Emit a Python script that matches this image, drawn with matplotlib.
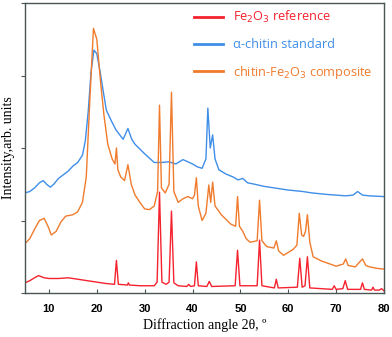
import matplotlib
matplotlib.use("Agg")
import matplotlib.pyplot as plt

# Fe2O3 reference (red)
red_x = [5, 6, 7, 7.8, 9, 10, 12, 14, 16, 18, 20, 22, 23.7, 24.1, 24.5, 26.4, 26.6, 26.8, 29, 32,
         32.6, 33.1, 33.6, 34.5, 35.1, 35.6, 36.1, 37, 38.8, 39.2, 39.6, 40.4, 40.8, 41.2, 43, 43.5, 44,
         48.9, 49.4, 49.9, 53.5, 54.0, 54.5, 57.1, 57.5, 57.9, 61.9, 62.4, 62.9, 63.5, 64.0, 64.5,
         69.2, 69.6, 70, 71.4, 71.9, 72.4, 75.1, 75.5, 75.9, 77.4, 77.7, 78, 79, 79.5, 80]
red_y = [0.14, 0.17, 0.21, 0.24, 0.21, 0.2, 0.2, 0.21, 0.19, 0.17, 0.15, 0.13, 0.12, 0.45, 0.12, 0.11, 0.14, 0.11, 0.1, 0.1,
         0.15, 1.39, 0.15, 0.12, 0.15, 1.13, 0.14, 0.1, 0.09, 0.12, 0.09, 0.1, 0.43, 0.1, 0.09, 0.16, 0.09,
         0.1, 0.59, 0.1, 0.1, 0.73, 0.1, 0.07, 0.19, 0.07, 0.08, 0.48, 0.08, 0.1, 0.5, 0.07,
         0.05, 0.1, 0.05, 0.06, 0.17, 0.05, 0.05, 0.14, 0.05, 0.04, 0.08, 0.04, 0.04, 0.06, 0.03]

# alpha-chitin standard (blue)
blue_x = [5, 6, 7, 8, 8.8, 9.5, 10.3, 11, 12, 13, 14, 15, 16, 17, 17.6, 18.2, 18.8, 19.4, 20.0, 20.7,
          21.3, 22, 23, 24, 25.5, 26.5, 27.3, 28, 30, 32, 33.5, 35, 36.5, 38, 40, 41, 42, 42.8, 43.2,
          43.7, 44.2, 44.7, 45.5, 47, 48.5, 49.5, 50.5, 51.5, 53, 55, 58, 60, 63, 65, 68, 70, 72, 73.5,
          74.5, 75.5, 77, 80]
blue_y = [1.38, 1.4, 1.45, 1.52, 1.55, 1.5, 1.46, 1.5, 1.58, 1.63, 1.68, 1.75, 1.8, 1.9, 2.1, 2.5, 3.05, 3.35, 3.3, 3.05,
          2.8, 2.52, 2.38, 2.25, 2.12, 2.27, 2.12, 2.05, 1.92, 1.8, 1.8, 1.81, 1.78, 1.84, 1.78, 1.74, 1.72, 1.85, 2.55,
          2.0, 2.18, 1.85, 1.7, 1.64, 1.6, 1.56, 1.58, 1.52, 1.5, 1.47, 1.44, 1.42, 1.4, 1.38, 1.36, 1.35, 1.34, 1.35,
          1.4, 1.35, 1.34, 1.33]

# chitin-Fe2O3 composite (orange)
orange_x = [5, 6, 7, 8, 9, 9.8, 10.5, 11.5, 12.5, 13.5, 15, 16, 17, 17.8, 18.5, 19.3, 20.0, 20.8, 21.5, 22.3,
            23.2, 23.8, 24.1, 24.4, 25, 25.8, 26.5, 27.2, 28, 29, 30, 31, 32, 32.7, 33.1, 33.5, 34.3,
            35.1, 35.6, 36.1, 37, 38, 39, 40, 40.4, 40.8, 41.2, 42, 42.8, 43.4, 43.8, 44.2, 44.7, 46, 48,
            49, 49.4, 49.8, 50.5, 51.2, 52, 53.5, 54.0, 54.5, 55.5, 57, 57.5, 58, 59, 61, 61.8, 62.3,
            62.8, 63.2, 63.6, 64.0, 64.5, 65.2, 67, 70, 71.5, 72, 72.5, 74, 74.8, 75.5, 76.2, 77, 78.5, 80]
orange_y = [0.68, 0.75, 0.88, 1.0, 1.03, 0.92, 0.8, 0.85, 0.98, 1.06, 1.08, 1.12, 1.25, 1.6, 2.6, 3.65, 3.5, 2.9, 2.45, 2.05,
            1.85, 1.78, 2.0, 1.7, 1.6, 1.55, 1.77, 1.5, 1.35, 1.25, 1.16, 1.15, 1.2, 1.4, 2.59, 1.45, 1.38,
            1.5, 2.77, 1.4, 1.25, 1.3, 1.33, 1.3, 1.35, 1.59, 1.2, 1.0, 1.1, 1.49, 1.25, 1.53, 1.2, 1.08, 0.95,
            0.92, 1.33, 0.92, 0.85, 0.75, 0.7, 0.72, 1.28, 0.72, 0.64, 0.62, 0.72, 0.58, 0.52, 0.6, 0.66, 1.1,
            0.8, 0.78, 0.85, 1.08, 0.7, 0.5, 0.44, 0.37, 0.4, 0.47, 0.38, 0.36, 0.42, 0.47, 0.38, 0.36, 0.34, 0.33]

x_ticks = [10, 20, 30, 40, 50, 60, 70, 80]
y_ticks = [0, 1, 2, 3, 4]

red_c = "#f5222f"
blue_c = "#3f8ee8"
orange_c = "#f07b2d"

fig = plt.figure(figsize=(3.92, 3.37), dpi=100)
ax = fig.add_axes([25/392, 1-293/337, (384-25)/392, (293-3)/337])

ax.plot(red_x, red_y, color=red_c, lw=1.0, label="Fe$_2$O$_3$ reference")
ax.plot(blue_x, blue_y, color=blue_c, lw=1.0, label="α-chitin standard")
ax.plot(orange_x, orange_y, color=orange_c, lw=1.0, label="chitin-Fe$_2$O$_3$ composite")

ax.set_xlim(5, 80)
ax.set_ylim(0, 4)
ax.set_xticks(x_ticks)
ax.set_xticklabels([str(t) for t in x_ticks], fontfamily="Liberation Sans", fontweight="bold", fontsize=8)
ax.set_yticks(y_ticks)
ax.set_yticklabels([])
ax.tick_params(axis="x", direction="in", length=3, color="#4a5656", pad=8)
ax.tick_params(axis="y", direction="out", length=3, color="#4a5656")
for s in ax.spines.values():
    s.set_color("#4a5656")
    s.set_linewidth(1.0)

ax.set_xlabel("Diffraction angle 2θ, º", fontfamily="Liberation Serif", fontsize=10, labelpad=3)
ax.set_ylabel("Intensity,arb. units", fontfamily="Liberation Serif", fontsize=10, labelpad=1)

leg = ax.legend(loc="upper right", bbox_to_anchor=(1.0, 1.018), frameon=False, handlelength=2.3,
                handletextpad=0.75, labelspacing=1.0, prop={"family": "Open Sans", "size": 9.2})
for txt, c in zip(leg.get_texts(), [red_c, blue_c, orange_c]):
    txt.set_color(c)
for line in leg.get_lines():
    line.set_linewidth(2.0)

fig.savefig("out.png", dpi=100)
